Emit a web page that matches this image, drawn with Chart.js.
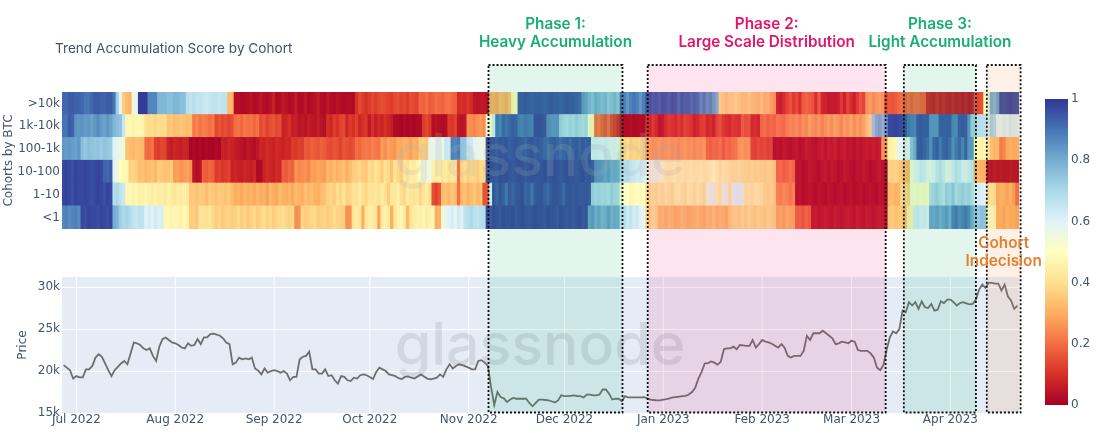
<!DOCTYPE html>
<html>
<head>
<meta charset="utf-8">
<style>
  html, body { margin: 0; padding: 0; background: #fff; }
  #wrap { position: relative; width: 1100px; height: 433px; }
</style>
<script src="https://cdn.jsdelivr.net/npm/chart.js@4/dist/chart.umd.min.js"></script>
</head>
<body>
<div id="wrap"><canvas id="trendChart" width="1100" height="433"></canvas></div>
<script>
const cohorts = ["<1", "1-10", "10-100", "100-1k", "1k-10k", ">10k"];
const monthDays = [4, 35, 66, 96, 127, 157, 188, 219, 247, 278];
const monthLabels = ["Jul 2022", "Aug 2022", "Sep 2022", "Oct 2022", "Nov 2022", "Dec 2022", "Jan 2023", "Feb 2023", "Mar 2023", "Apr 2023"];
const priceTicks = [15, 20, 25, 30];
const colorbarTicks = [0, 0.2, 0.4, 0.6, 0.8, 1];

// one score per day, ten days a line
const scoreOver10k = [
  .92,.92,.94,.94,.93,.93,.92,.90,.90,.92,
  .94,.94,.93,.93,.94,.94,.90,.72,.58,.36,
  .33,.31,.56,.57,.99,.99,.99,.87,.87,.87,
  .78,.78,.78,.76,.76,.78,.78,.76,.76,.68,
  .66,.68,.66,.66,.65,.64,.65,.66,.66,.65,
  .66,.66,.32,.32,.03,.03,.02,.02,.03,.04,
  .02,.03,.05,.03,.02,.04,.07,.02,.03,.05,
  .04,.02,.03,.06,.02,.03,.05,.02,.03,.04,
  .06,.03,.02,.05,.03,.02,.04,.03,.02,.03,
  .03,.02,.10,.14,.12,.10,.12,.14,.12,.14,
  .15,.14,.13,.12,.14,.15,.13,.14,.12,.15,
  .14,.13,.19,.18,.20,.17,.18,.20,.19,.18,
  .20,.21,.19,.18,.09,.10,.09,.11,.09,.05,
  .04,.05,.05,.04,.30,.31,.29,.33,.32,.30,
  .34,.48,.49,.95,.95,.96,.95,.94,.95,.95,
  .95,.94,.95,.96,.95,.95,.94,.95,.96,.95,
  .95,.94,.93,.84,.82,.78,.76,.80,.78,.76,
  .78,.74,.76,.78,.74,.90,.88,.84,.88,.90,
  .88,.84,.88,.94,.95,.93,.94,.92,.95,.94,
  .92,.95,.94,.90,.94,.92,.93,.90,.92,.90,
  .85,.88,.84,.86,.82,.78,.40,.38,.36,.38,
  .38,.40,.38,.36,.36,.38,.36,.35,.34,.36,
  .33,.34,.30,.28,.08,.06,.10,.14,.17,.12,
  .15,.10,.18,.20,.18,.17,.10,.18,.08,.07,
  .05,.06,.05,.06,.12,.07,.14,.10,.06,.12,
  .17,.14,.28,.30,.27,.29,.30,.28,.14,.17,
  .16,.17,.19,.20,.17,.20,.18,.20,.20,.18,
  .18,.08,.07,.06,.09,.06,.08,.06,.05,.07,
  .05,.06,.04,.06,.04,.05,.16,.14,.15,.50,
  .55,.80,.78,.82,.97,.96,.97,.98,.97,.96
];
const score1kTo10k = [
  .90,.90,.94,.93,.85,.84,.85,.83,.84,.82,
  .84,.86,.83,.82,.84,.82,.78,.76,.75,.65,
  .47,.48,.46,.47,.48,.46,.40,.39,.40,.38,
  .40,.39,.40,.34,.35,.33,.34,.35,.34,.33,
  .34,.22,.24,.21,.23,.22,.20,.22,.14,.16,
  .14,.15,.13,.15,.20,.21,.19,.22,.20,.21,
  .19,.21,.14,.16,.13,.15,.16,.14,.15,.07,
  .08,.10,.06,.07,.04,.05,.04,.06,.05,.04,
  .06,.04,.03,.10,.08,.12,.10,.13,.14,.08,
  .12,.10,.13,.08,.10,.11,.05,.10,.06,.09,
  .07,.10,.08,.06,.02,.02,.01,.02,.01,.02,
  .01,.02,.02,.12,.14,.11,.03,.04,.03,.02,
  .03,.12,.11,.13,.05,.04,.05,.26,.25,.24,
  .26,.27,.25,.55,.50,.62,.90,.88,.93,.91,
  .93,.95,.94,.89,.88,.90,.89,.88,.97,.97,
  .97,.96,.86,.85,.84,.85,.72,.70,.68,.71,
  .69,.72,.70,.68,.70,.52,.48,.20,.22,.18,
  .16,.20,.14,.12,.09,.03,.02,.02,.03,.02,
  .02,.03,.02,.10,.08,.12,.09,.04,.05,.10,
  .12,.11,.09,.12,.10,.14,.12,.11,.07,.09,
  .12,.13,.08,.10,.07,.14,.16,.12,.10,.09,
  .12,.11,.10,.18,.16,.17,.09,.10,.08,.20,
  .22,.19,.21,.20,.23,.22,.21,.24,.26,.25,
  .27,.24,.28,.26,.30,.28,.26,.29,.25,.28,
  .30,.27,.31,.29,.26,.30,.28,.32,.27,.30,
  .28,.31,.36,.40,.72,.78,.80,.76,.82,.97,
  .97,.98,.97,.96,.97,.90,.89,.88,.95,.96,
  .95,.95,.85,.85,.85,.95,.95,.95,.95,.88,
  .87,.95,.96,.95,.85,.72,.72,.68,.68,.67,
  .62,.72,.70,.60,.58,.62,.60,.63,.62,.61
];
const score100To1k = [
  .84,.83,.84,.83,.82,.84,.76,.74,.76,.75,
  .74,.75,.73,.75,.74,.73,.60,.58,.56,.55,
  .34,.33,.32,.34,.33,.32,.20,.19,.21,.13,
  .12,.14,.13,.07,.06,.08,.07,.06,.08,.07,
  .01,.02,.01,.02,.01,.02,.01,.01,.02,.01,
  .07,.06,.08,.07,.06,.05,.04,.03,.05,.04,
  .03,.05,.08,.07,.09,.08,.07,.09,.08,.07,
  .09,.08,.12,.11,.13,.12,.17,.16,.18,.17,
  .16,.18,.17,.15,.14,.16,.15,.13,.16,.15,
  .14,.15,.20,.19,.21,.22,.21,.23,.22,.21,
  .27,.25,.28,.27,.26,.30,.29,.31,.30,.28,
  .31,.30,.36,.37,.35,.58,.57,.58,.59,.56,
  .65,.64,.88,.87,.89,.75,.74,.65,.64,.58,
  .58,.56,.57,.96,.97,.96,.95,.97,.96,.97,
  .95,.96,.97,.96,.95,.94,.96,.97,.95,.96,
  .95,.93,.92,.95,.96,.94,.92,.94,.95,.93,
  .95,.96,.94,.96,.95,.96,.62,.62,.61,.60,
  .62,.60,.58,.60,.58,.38,.37,.40,.36,.38,
  .37,.39,.36,.28,.29,.27,.28,.29,.27,.28,
  .29,.27,.28,.26,.28,.29,.27,.28,.26,.28,
  .27,.29,.20,.19,.21,.20,.22,.18,.21,.20,
  .22,.23,.28,.29,.27,.28,.14,.13,.15,.14,
  .15,.13,.14,.03,.04,.03,.05,.04,.03,.04,
  .05,.03,.04,.06,.05,.04,.03,.05,.06,.04,
  .06,.05,.07,.04,.05,.06,.04,.05,.03,.05,
  .04,.05,.06,.05,.06,.05,.06,.28,.27,.45,
  .46,.47,.60,.58,.61,.59,.75,.80,.95,.96,
  .94,.92,.86,.93,.95,.90,.94,.95,.92,.86,
  .90,.93,.88,.94,.85,.84,.47,.48,.46,.47,
  .47,.35,.33,.34,.22,.24,.30,.32,.30,.31
];
const score10To100 = [
  .97,.98,.97,.96,.98,.97,.97,.98,.97,.96,
  .97,.98,.97,.93,.92,.94,.60,.55,.50,.48,
  .48,.37,.38,.36,.33,.34,.32,.33,.34,.32,
  .36,.35,.34,.34,.36,.27,.28,.26,.27,.28,
  .26,.05,.03,.04,.18,.17,.19,.18,.12,.13,
  .11,.12,.13,.07,.08,.07,.06,.08,.07,.06,
  .08,.02,.02,.07,.09,.08,.07,.09,.08,.18,
  .17,.19,.18,.26,.24,.25,.26,.24,.28,.27,
  .29,.28,.27,.32,.30,.33,.31,.32,.34,.30,
  .33,.36,.37,.38,.36,.35,.40,.38,.42,.39,
  .36,.41,.39,.34,.42,.38,.36,.44,.40,.45,
  .44,.46,.52,.54,.56,.55,.45,.43,.46,.42,
  .44,.41,.43,.42,.20,.38,.40,.37,.39,.38,
  .36,.39,.38,.97,.98,.97,.96,.98,.97,.98,
  .97,.96,.97,.98,.97,.96,.97,.98,.97,.97,
  .97,.98,.96,.97,.98,.97,.96,.97,.98,.97,
  .97,.96,.97,.98,.96,.97,.95,.86,.85,.84,
  .82,.84,.80,.81,.80,.70,.68,.69,.66,.65,
  .63,.64,.62,.57,.56,.55,.56,.54,.52,.47,
  .46,.47,.48,.46,.47,.45,.46,.47,.45,.46,
  .47,.45,.46,.48,.50,.47,.44,.46,.45,.44,
  .42,.43,.44,.42,.41,.40,.42,.40,.41,.40,
  .39,.41,.40,.38,.20,.21,.19,.20,.22,.20,
  .03,.04,.02,.03,.05,.04,.03,.02,.04,.05,
  .03,.05,.04,.02,.03,.05,.04,.03,.02,.04,
  .03,.05,.04,.02,.03,.04,.05,.03,.02,.38,
  .37,.38,.36,.34,.33,.32,.52,.58,.60,.64,
  .62,.58,.56,.60,.64,.66,.63,.56,.58,.62,
  .66,.64,.60,.58,.62,.64,.30,.32,.31,.30,
  .02,.02,.03,.02,.03,.02,.02,.03,.02,.02
];
const score1To10 = [
  .97,.98,.97,.96,.98,.97,.97,.98,.97,.96,
  .97,.98,.97,.96,.98,.97,.68,.70,.66,.64,
  .47,.48,.46,.47,.45,.46,.47,.45,.44,.46,
  .44,.45,.43,.46,.44,.42,.44,.43,.45,.43,
  .35,.36,.34,.36,.35,.33,.36,.35,.34,.36,
  .35,.34,.36,.33,.30,.31,.29,.32,.30,.31,
  .29,.32,.30,.31,.28,.32,.30,.29,.33,.31,
  .30,.32,.29,.33,.31,.30,.34,.32,.33,.31,
  .30,.33,.34,.37,.38,.36,.40,.38,.42,.37,
  .38,.42,.40,.44,.40,.38,.42,.41,.43,.40,
  .44,.41,.36,.43,.42,.45,.40,.38,.44,.42,
  .41,.43,.38,.42,.44,.40,.15,.13,.16,.33,
  .34,.32,.35,.33,.20,.32,.34,.31,.33,.35,
  .32,.34,.15,.16,.60,.97,.94,.97,.95,.91,
  .96,.94,.96,.97,.98,.94,.95,.91,.96,.97,
  .97,.95,.93,.96,.97,.97,.96,.93,.97,.97,
  .96,.97,.96,.96,.97,.96,.72,.70,.71,.69,
  .70,.68,.72,.70,.69,.50,.52,.50,.47,.49,
  .51,.48,.50,.42,.40,.43,.41,.44,.42,.45,
  .43,.41,.45,.46,.44,.42,.47,.45,.43,.46,
  .44,.42,.55,.57,.58,.46,.44,.56,.58,.42,
  .58,.60,.59,.58,.44,.45,.43,.46,.45,.44,
  .40,.39,.41,.38,.25,.24,.26,.25,.23,.25,
  .03,.04,.02,.03,.04,.03,.02,.04,.03,.02,
  .04,.03,.02,.03,.04,.02,.03,.04,.02,.03,
  .04,.02,.03,.04,.03,.02,.04,.03,.02,.32,
  .33,.31,.32,.38,.39,.37,.52,.51,.53,.50,
  .52,.50,.68,.70,.72,.69,.66,.72,.70,.74,
  .68,.70,.72,.69,.71,.67,.60,.62,.61,.60,
  .42,.44,.41,.30,.32,.31,.29,.32,.28,.20
];
const scoreUnder1 = [
  .87,.88,.86,.87,.88,.86,.97,.96,.98,.97,
  .97,.96,.98,.97,.96,.98,.80,.78,.72,.70,
  .71,.69,.66,.65,.67,.66,.60,.62,.60,.63,
  .61,.62,.47,.48,.46,.48,.47,.45,.48,.46,
  .36,.37,.35,.42,.41,.40,.42,.39,.36,.38,
  .35,.37,.38,.36,.37,.39,.36,.38,.35,.37,
  .39,.36,.38,.40,.37,.39,.36,.38,.39,.40,
  .38,.37,.39,.25,.26,.38,.36,.37,.38,.39,
  .36,.37,.38,.36,.37,.39,.38,.37,.36,.25,
  .26,.42,.44,.43,.30,.42,.45,.44,.42,.28,
  .43,.46,.44,.30,.42,.45,.48,.44,.32,.42,
  .44,.46,.45,.47,.44,.46,.47,.30,.31,.55,
  .58,.60,.62,.58,.63,.60,.66,.68,.70,.67,
  .66,.68,.69,.97,.96,.98,.97,.96,.98,.97,
  .97,.98,.96,.97,.98,.97,.96,.97,.98,.97,
  .97,.96,.98,.97,.97,.96,.98,.97,.96,.97,
  .96,.97,.98,.96,.97,.82,.84,.80,.82,.78,
  .80,.83,.79,.81,.80,.66,.68,.64,.66,.62,
  .64,.60,.58,.40,.38,.42,.39,.33,.34,.32,
  .34,.33,.31,.32,.34,.33,.31,.32,.33,.34,
  .32,.31,.34,.33,.35,.32,.34,.33,.31,.36,
  .38,.39,.38,.40,.38,.41,.39,.38,.40,.39,
  .38,.40,.39,.38,.30,.31,.29,.32,.30,.30,
  .18,.19,.17,.20,.18,.05,.06,.04,.05,.06,
  .05,.04,.06,.05,.04,.05,.06,.05,.04,.06,
  .05,.04,.06,.05,.04,.05,.06,.05,.04,.35,
  .36,.34,.35,.35,.33,.45,.46,.62,.63,.61,
  .62,.60,.82,.81,.83,.80,.82,.84,.80,.88,
  .90,.86,.88,.90,.87,.80,.75,.74,.76,.75,
  .50,.52,.48,.30,.31,.29,.32,.30,.31,.29
];
const scoreRows = [scoreUnder1, score1To10, score10To100, score100To1k, score1kTo10k, scoreOver10k];

// daily close in thousands of USD
const priceK = [
  20.7,20.4,20.1,19.1,19.4,19.25,19.25,20.2,20.2,20.6,
  21.6,22,21.7,20.9,20.1,19.4,20.1,20.5,20.9,21.2,
  20.8,22.1,23.4,23.3,23.1,22.7,22.5,22.7,21.8,21.2,
  22.9,23.8,24,23.7,23.4,23.3,23.1,22.8,22.7,23.3,
  23,23.1,23.8,23.2,24,24,24.4,24.45,24.35,24.2,
  23.9,23.4,23.2,20.8,21,21.6,21.4,21.5,21.4,21.6,
  20.3,20.05,19.6,20.3,19.8,20,20.1,20,19.8,20,
  19.7,18.9,19.3,19.3,21.4,21.7,21.8,22.3,20.2,20.2,
  19.7,19.7,20.2,19.4,19.5,18.9,18.5,19.4,19.3,18.9,
  18.8,19.2,19.1,19.5,19.6,19.5,19.3,19.05,19.9,20.4,
  20.2,20,19.6,19.5,19.4,19.15,19.05,19.3,19.35,19.2,
  19.1,19.35,19.6,19.35,19.1,19,19.1,19.2,19.6,19.3,
  20.2,20.8,20.3,20.6,20.8,20.7,20.55,20.4,20.2,20.2,
  21.2,21.3,21,20.6,18.1,15.95,17.5,16.9,16.75,16.3,
  16.6,16.8,16.7,16.7,16.7,16.7,16.2,15.8,16.2,16.6,
  16.6,16.55,16.5,16.4,16.25,16.5,17.1,17,17,17.05,
  17.1,17,17,16.85,17.2,17.2,17.1,17.1,17.2,17.8,
  17.8,17.3,16.6,16.7,16.7,16.4,17,16.85,16.85,16.85,
  16.85,16.87,16.9,16.75,16.6,16.55,16.5,16.5,16.6,16.65,
  16.75,16.85,16.9,16.95,17,17.05,17.2,17.5,18,19.1,
  19.9,20.9,20.95,21.15,21,20.75,21.1,22.6,22.7,22.7,
  22.9,22.6,23.1,23.05,23,23,23.7,22.8,23.2,23.7,
  23.5,23.4,23.25,23,22.8,23.2,22.8,21.8,21.6,21.8,
  21.8,21.8,22.4,24.2,23.7,24.5,24.5,24.5,24.8,24.5,
  24.2,23.9,23.2,23.3,23.5,23.4,23.3,23.6,23.5,22.5,
  22.4,22.4,22.4,22.1,21.6,20.4,20.1,20.7,22.5,24,
  24.7,24.5,25,27.2,27,28.2,27.8,28.2,27.4,28.3,
  27.6,27.5,28,27.2,27.3,28.3,28.1,28.5,28.5,28.2,
  27.8,28.1,28.2,28.05,27.95,28,28.5,29.7,30.3,29.9,
  30.5,30.5,30.4,30.4,29.6,30.3,28.9,28.4,27.4,27.8
];

// phase windows on the day axis
const phaseNames = [["Phase 1:", "Heavy Accumulation"], ["Phase 2:", "Large Scale Distribution"], ["Phase 3:", "Light Accumulation"], ["Cohort", "Indecision"]];
const phaseStart = [133.2, 183.1, 263.4, 289.4];
const phaseEnd = [175.2, 257.7, 286, 300];
const phaseTints = ["rgba(22,180,114,0.12)", "rgba(238,30,113,0.12)", "rgba(22,180,114,0.12)", "rgba(238,130,47,0.12)"];
const phaseTextColors = ["#1aae74", "#e2156a", "#1aae74", "#e47f2d"];

const colorStops = [[165,0,38],[215,48,39],[244,109,67],[253,174,97],[254,224,144],[255,255,191],[224,243,248],[171,217,233],[116,173,209],[69,117,180],[49,54,149]];
const tickColor = "#44546a";
const tickFont = { family: "DejaVu Sans", size: 12 };

function scoreColor(v) {
  const pos = Math.min(v, 0.999) * 10;
  const i = Math.floor(pos);
  const t = pos - i;
  const c = colorStops[i].map((a, k) => Math.round(a + (colorStops[i + 1][k] - a) * t));
  return `rgb(${c[0]},${c[1]},${c[2]})`;
}

const heatDatasets = scoreRows.map((row, r) => ({
  type: "bar",
  label: cohorts[r],
  yAxisID: "yHeat",
  data: row.map((v, i) => ({ x: i, y: [r - 0.5, r + 0.5] })),
  backgroundColor: row.map(scoreColor),
  borderWidth: 0,
  inflateAmount: 0.6,
  grouped: false,
  categoryPercentage: 1,
  barPercentage: 1,
  order: 2,
}));

const priceDataset = {
  type: "line",
  label: "Price",
  yAxisID: "yPrice",
  data: priceK.map((v, i) => ({ x: i, y: v })),
  borderColor: "#6e6e6e",
  borderWidth: 1.8,
  pointRadius: 0,
  tension: 0,
  order: 1,
};

const fixedWidth = (w) => (scale) => { scale.width = w; };

const panelPlugin = {
  id: "panels",
  // price pane background and its month grid
  beforeDraw(chart) {
    const { ctx, scales } = chart;
    const yp = scales.yPrice;
    const x = scales.x;
    ctx.save();
    ctx.fillStyle = "#e5ecf6";
    ctx.fillRect(x.left, yp.top, x.right - x.left, yp.bottom - yp.top);
    ctx.strokeStyle = "#fff";
    ctx.lineWidth = 1;
    monthDays.forEach((d) => {
      const px = x.getPixelForValue(d);
      ctx.beginPath();
      ctx.moveTo(px, yp.top);
      ctx.lineTo(px, yp.bottom);
      ctx.stroke();
    });
    ctx.restore();
  },
  afterDatasetsDraw(chart) {
    const { ctx, scales, chartArea } = chart;
    const x = scales.x;
    ctx.save();
    // brand marks
    ctx.textAlign = "center";
    ctx.textBaseline = "alphabetic";
    ctx.font = "500 59px Inter";
    ctx.fillStyle = "rgba(110,115,125,0.17)";
    ctx.fillText("glassnode", 540, 365);
    ctx.fillStyle = "rgba(170,175,185,0.2)";
    ctx.fillText("glassnode", 540, 176);

    // phase windows
    phaseStart.forEach((start, i) => {
      const left = x.getPixelForValue(start);
      const right = x.getPixelForValue(phaseEnd[i]);
      const top = chartArea.top;
      const bottom = chartArea.bottom - 0.5;
      ctx.fillStyle = phaseTints[i];
      ctx.fillRect(left, top, right - left, bottom - top);
      ctx.strokeStyle = "#111";
      ctx.lineWidth = 1.8;
      ctx.setLineDash([2, 2]);
      ctx.strokeRect(left, top, right - left, bottom - top);
      ctx.setLineDash([]);
    });

    // phase captions
    ctx.font = "600 15.3px Inter";
    phaseNames.forEach((lines, i) => {
      const mid = (x.getPixelForValue(phaseStart[i]) + x.getPixelForValue(phaseEnd[i])) / 2;
      const top = i === 3 ? 248 : 29;
      ctx.fillStyle = phaseTextColors[i];
      lines.forEach((line, k) => ctx.fillText(line, mid, top + k * 18));
    });

    // chart title
    ctx.textAlign = "left";
    ctx.font = "400 13.6px Inter";
    ctx.fillStyle = tickColor;
    ctx.fillText("Trend Accumulation Score by Cohort", 55, 53);

    // colour bar on the right
    const barTop = 99, barBottom = 405, barLeft = 1045, barWidth = 23;
    const grad = ctx.createLinearGradient(0, barBottom, 0, barTop);
    colorStops.forEach((c, i) => grad.addColorStop(i / 10, `rgb(${c[0]},${c[1]},${c[2]})`));
    ctx.fillStyle = grad;
    ctx.fillRect(barLeft, barTop, barWidth, barBottom - barTop);
    ctx.font = `${tickFont.size}px "${tickFont.family}"`;
    ctx.fillStyle = tickColor;
    ctx.textBaseline = "middle";
    colorbarTicks.forEach((t) => {
      ctx.fillText(String(t), barLeft + barWidth + 3, barBottom - t * (barBottom - barTop));
    });
    ctx.restore();
  },
};

new Chart(document.getElementById("trendChart"), {
  data: { datasets: [priceDataset, ...heatDatasets] },
  plugins: [panelPlugin],
  options: {
    responsive: false,
    animation: false,
    layout: { padding: { top: 65, right: 81, left: 0, bottom: 0 } },
    plugins: { legend: { display: false }, tooltip: { enabled: false }, title: { display: false } },
    scales: {
      x: {
        type: "linear",
        offset: false,
        min: -0.5,
        max: 299.5,
        grid: { display: false, drawTicks: false },
        border: { display: false },
        afterBuildTicks(scale) { scale.ticks = monthDays.map((value) => ({ value })); },
        afterFit(scale) { scale.height = 20; },
        ticks: {
          autoSkip: false,
          maxRotation: 0,
          padding: 0,
          color: tickColor,
          font: tickFont,
          callback: (v) => monthLabels[monthDays.indexOf(v)],
        },
      },
      yPrice: {
        type: "linear",
        stack: "panes",
        stackWeight: 136,
        min: 15,
        max: 31.2,
        border: { display: false },
        grid: { color: "#fff", drawTicks: false },
        afterBuildTicks(scale) { scale.ticks = priceTicks.map((value) => ({ value })); },
        afterFit: fixedWidth(62),
        title: { display: true, text: "Price", color: tickColor, font: tickFont, padding: { top: 16, bottom: 0 } },
        ticks: { autoSkip: false, color: tickColor, font: tickFont, padding: 2, callback: (v) => v + "k" },
      },
      yGap: {
        type: "linear",
        stack: "panes",
        stackWeight: 48,
        display: false,
        afterFit: fixedWidth(62),
      },
      yHeat: {
        type: "linear",
        stack: "panes",
        stackWeight: 137,
        min: -0.5,
        max: 5.5,
        border: { display: false },
        grid: { display: false, drawTicks: false },
        afterBuildTicks(scale) { scale.ticks = cohorts.map((c, value) => ({ value })); },
        afterFit: fixedWidth(62),
        title: { display: true, text: "Cohorts by BTC", color: tickColor, font: tickFont, padding: { top: 2, bottom: 0 } },
        ticks: { autoSkip: false, color: tickColor, font: tickFont, padding: 2, callback: (v) => cohorts[v] },
      },
      yTop: {
        type: "linear",
        stack: "panes",
        stackWeight: 27,
        display: false,
        afterFit: fixedWidth(62),
      },
    },
  },
});
</script>
</body>
</html>
